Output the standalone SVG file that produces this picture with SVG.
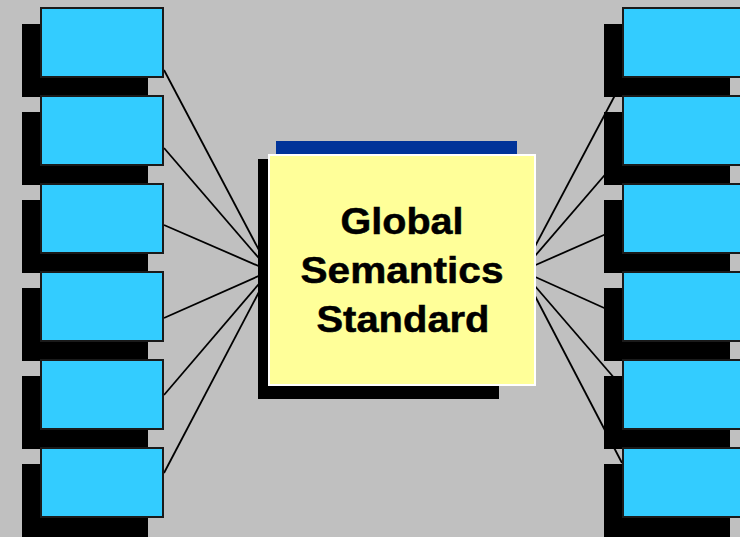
<svg xmlns="http://www.w3.org/2000/svg" width="740" height="537" viewBox="0 0 740 537">
<style>
.shadow{fill:#000}
.box{fill:#33CCFF;stroke:#1a1a1a;stroke-width:2}
.conn line{stroke:#000;stroke-width:1.8}
.label{font-family:"Liberation Sans",Arial,sans-serif;font-weight:bold;font-size:37px;fill:#000;stroke:#000;stroke-width:0.5;text-anchor:middle}
</style>
<rect width="740" height="537" fill="#C0C0C0"/>
<g id="connectors" class="conn">
<line x1="164" y1="70" x2="270" y2="271"/>
<line x1="164" y1="148" x2="270" y2="271"/>
<line x1="164" y1="225" x2="270" y2="271"/>
<line x1="164" y1="318" x2="270" y2="271"/>
<line x1="164" y1="395" x2="270" y2="271"/>
<line x1="164" y1="473" x2="270" y2="271"/>
<line x1="522" y1="271" x2="622" y2="82"/>
<line x1="522" y1="271" x2="622" y2="155"/>
<line x1="522" y1="271" x2="622" y2="227"/>
<line x1="522" y1="271" x2="622" y2="316"/>
<line x1="522" y1="271" x2="622" y2="387"/>
<line x1="522" y1="271" x2="622" y2="463"/>
</g>
<g id="left-1"><rect class="shadow" x="22" y="24" width="126" height="73"/><rect class="box" x="41" y="8" width="122" height="69"/></g>
<g id="left-2"><rect class="shadow" x="22" y="112" width="126" height="73"/><rect class="box" x="41" y="96" width="122" height="69"/></g>
<g id="left-3"><rect class="shadow" x="22" y="200" width="126" height="73"/><rect class="box" x="41" y="184" width="122" height="69"/></g>
<g id="left-4"><rect class="shadow" x="22" y="288" width="126" height="73"/><rect class="box" x="41" y="272" width="122" height="69"/></g>
<g id="left-5"><rect class="shadow" x="22" y="376" width="126" height="73"/><rect class="box" x="41" y="360" width="122" height="69"/></g>
<g id="left-6"><rect class="shadow" x="22" y="464" width="126" height="73"/><rect class="box" x="41" y="448" width="122" height="69"/></g>
<g id="right-1"><rect class="shadow" x="604" y="24" width="126" height="73"/><rect class="box" x="623" y="8" width="122" height="69"/></g>
<g id="right-2"><rect class="shadow" x="604" y="112" width="126" height="73"/><rect class="box" x="623" y="96" width="122" height="69"/></g>
<g id="right-3"><rect class="shadow" x="604" y="200" width="126" height="73"/><rect class="box" x="623" y="184" width="122" height="69"/></g>
<g id="right-4"><rect class="shadow" x="604" y="288" width="126" height="73"/><rect class="box" x="623" y="272" width="122" height="69"/></g>
<g id="right-5"><rect class="shadow" x="604" y="376" width="126" height="73"/><rect class="box" x="623" y="360" width="122" height="69"/></g>
<g id="right-6"><rect class="shadow" x="604" y="464" width="126" height="73"/><rect class="box" x="623" y="448" width="122" height="69"/></g>
<g id="center">
<rect x="276" y="141" width="241" height="13" fill="#003399"/>
<rect class="shadow" x="258" y="159" width="241" height="240"/>
<rect x="269" y="155" width="266" height="230" fill="#FFFF99" stroke="#FFFFFF" stroke-width="2"/>
<text class="label" x="402" y="234" textLength="123" lengthAdjust="spacingAndGlyphs">Global</text>
<text class="label" x="402" y="283" textLength="203" lengthAdjust="spacingAndGlyphs">Semantics</text>
<text class="label" x="403" y="332" textLength="173" lengthAdjust="spacingAndGlyphs">Standard</text>
</g>
</svg>
